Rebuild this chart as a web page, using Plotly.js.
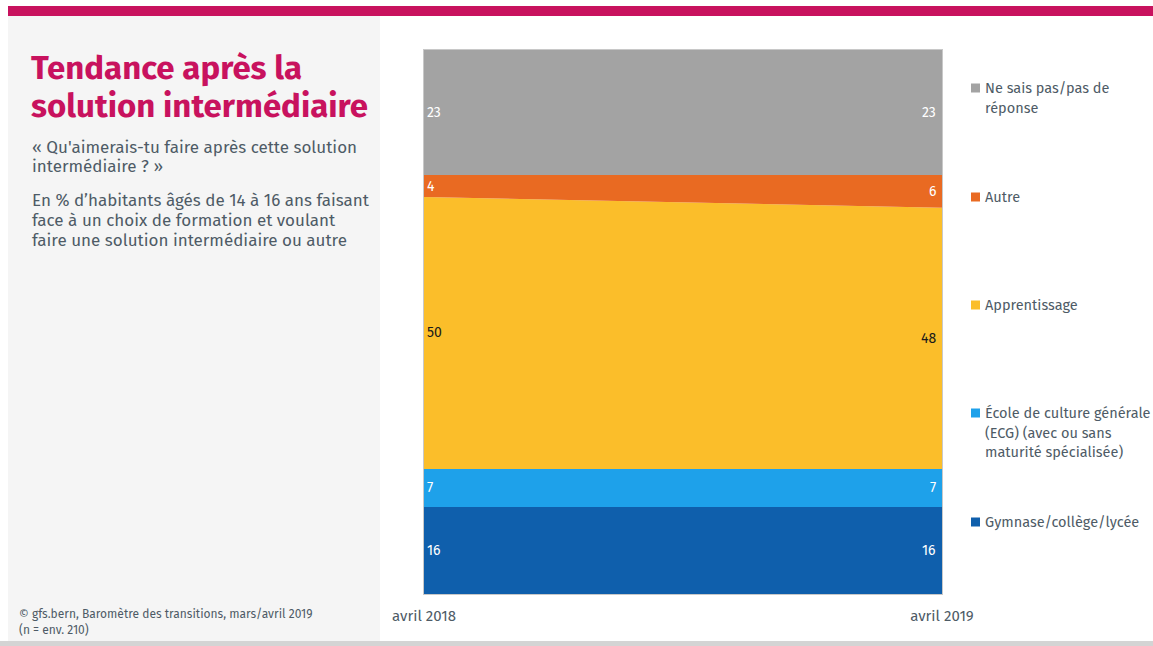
<!DOCTYPE html>
<html>
<head>
<meta charset="utf-8">
<script src="https://cdn.plot.ly/plotly-3.0.1.min.js"></script>
<style>
html,body{margin:0;padding:0;background:#fff;}
#chart{width:1153px;height:646px;}
</style>
</head>
<body>
<div id="chart"></div>
<script>
// ---- data ----
const periods = ['avril 2018', 'avril 2019'];
const seriesNames = [
  'Gymnase/collège/lycée',
  'École de culture générale (ECG) (avec ou sans maturité spécialisée)',
  'Apprentissage',
  'Autre',
  'Ne sais pas/pas de réponse'
];
const gymnase = [16, 16];
const ecg = [7, 7];
const apprentissage = [50, 48];
const autre = [4, 6];
const nesaispas = [23, 23];
const legendLabels = [
  ['Gymnase/collège/lycée'],
  ['École de culture générale', '(ECG) (avec ou sans', 'maturité spécialisée)'],
  ['Apprentissage'],
  ['Autre'],
  ['Ne sais pas/pas de', 'réponse']
];
const titleLines = ['Tendance après la', 'solution intermédiaire'];
const questionLines = ['« Qu\'aimerais-tu faire après cette solution', 'intermédiaire ? »'];
const baseLines = ['En % d\u2019habitants âgés de 14 à 16 ans faisant', 'face à un choix de formation et voulant', 'faire une solution intermédiaire ou autre'];
const sourceLines = ['© gfs.bern, Baromètre des transitions, mars/avril 2019', '(n = env. 210)'];

// ---- styles ----
const colors = ['#0F5FAC', '#1EA1EA', '#FBBE2A', '#E96A22', '#A3A3A3'];
const labelColors = ['#ffffff', '#ffffff', '#1a1a1a', '#ffffff', '#ffffff'];
const FONT = '"Fira Sans", Roboto, "Noto Sans", sans-serif';
const TXT = '#4E5B66';
const allSeries = [gymnase, ecg, apprentissage, autre, nesaispas];

// plot area in pixels
const W = 1153, H = 646;
const L = 424, R = 942, T = 50, B = 594;
const px = x => (x - L) / (R - L);
const py = y => (B - y) / (B - T);

const traces = allSeries.map((vals, i) => ({
  type: 'scatter',
  mode: 'lines',
  x: periods,
  y: vals,
  name: seriesNames[i],
  stackgroup: 'one',
  fillcolor: colors[i],
  line: {width: 0, color: colors[i]},
  hoverinfo: 'x+y+name',
  showlegend: false
}));

const annotations = [];
// value labels
const cum = [0, 0];
allSeries.forEach((vals, i) => {
  vals.forEach((v, j) => {
    annotations.push({
      x: periods[j], y: cum[j] + v / 2, xref: 'x', yref: 'y',
      text: String(v), showarrow: false,
      xanchor: j === 0 ? 'left' : 'right',
      xshift: j === 0 ? 1 : -4,
      font: {family: FONT, size: 14, color: labelColors[i]}
    });
    cum[j] += v;
  });
});

function textLines(lines, x, y0, step, size, color, bold) {
  lines.forEach((t, k) => {
    annotations.push({xref: 'paper', yref: 'paper', x: px(x), y: py(y0 + k * step),
      xanchor: 'left', yanchor: 'middle', align: 'left', showarrow: false,
      text: bold ? '<b>' + t + '</b>' : t,
      font: {family: FONT, size: size, color: color}});
  });
}

// legend (custom)
const legendY = [522, 413, 305, 197, 88];
const shapes = [];
legendLabels.forEach((lab, i) => {
  shapes.push({type: 'rect', xref: 'paper', yref: 'paper',
    x0: px(971), x1: px(980), y0: py(legendY[i] + 4.5), y1: py(legendY[i] - 4.5),
    fillcolor: colors[i], line: {width: 0}});
  textLines(lab, 983, legendY[i], 19.5, 14.5, TXT, false);
});

// frame decorations
shapes.push({type: 'rect', xref: 'paper', yref: 'paper', layer: 'below',
  x0: px(8), x1: px(380), y0: py(641), y1: py(15), fillcolor: '#F5F5F5', line: {width: 0}});
shapes.push({type: 'rect', xref: 'paper', yref: 'paper', layer: 'below',
  x0: px(8), x1: px(W), y0: py(16), y1: py(6), fillcolor: '#C8125E', line: {width: 0}});
shapes.push({type: 'rect', xref: 'paper', yref: 'paper', layer: 'below',
  x0: px(0), x1: px(W), y0: py(H), y1: py(641), fillcolor: '#D4D4D4', line: {width: 0}});

// left panel texts
textLines(titleLines, 29, 68, 38, 33, '#C8125E', true);
textLines(questionLines, 30, 147, 19.5, 17, TXT, false);
textLines(baseLines, 30, 200, 20, 17, TXT, false);
textLines(sourceLines, 17, 614, 16, 12, TXT, false);

const layout = {
  width: W, height: H,
  margin: {l: L, r: W - R, t: T, b: H - B, pad: 0},
  paper_bgcolor: '#ffffff',
  plot_bgcolor: '#ffffff',
  showlegend: false,
  xaxis: {
    type: 'category', range: [0, 1], showgrid: false, zeroline: false,
    showline: true, linecolor: '#C8C8C8', linewidth: 1, mirror: true,
    ticks: '', ticklabelstandoff: 8,
    tickfont: {family: FONT, size: 15, color: TXT}, fixedrange: true
  },
  yaxis: {
    range: [0, 100], showgrid: false, zeroline: false, showticklabels: false,
    showline: true, linecolor: '#C8C8C8', linewidth: 1, mirror: true,
    ticks: '', fixedrange: true
  },
  shapes: shapes,
  annotations: annotations
};

Plotly.newPlot('chart', traces, layout, {displayModeBar: false, staticPlot: true});
</script>
</body>
</html>
